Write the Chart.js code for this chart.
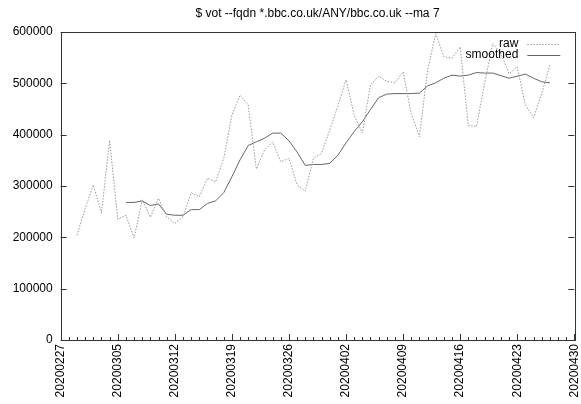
<!DOCTYPE html>
<html>
<head>
<meta charset="utf-8">
<script src="https://cdn.jsdelivr.net/npm/chart.js@4"></script>
<style>
  body { margin: 0; background: #fff; }
  #box { width: 581px; height: 404px; position: relative; }
</style>
</head>
<body>
<div id="box"><canvas id="chart"></canvas></div>
<script>
// axis range and tick labels
const firstDay = '20200227';
const dayCount = 64;
const xTickLabels = ['20200227', '20200305', '20200312', '20200319', '20200326',
  '20200402', '20200409', '20200416', '20200423', '20200430'];
const yTicks = [0, 100000, 200000, 300000, 400000, 500000, 600000];

// raw daily values, from 20200229 to 20200427
const rawStart = '20200229';
const rawValues = [204000, 256000, 302000, 247000, 389000, 235000, 243000, 199000,
  273000, 239000, 276000, 240000, 227000, 240000, 287000, 279000, 315000, 308000,
  354000, 438000, 477000, 458000, 333000, 370000, 386000, 347000, 354000, 302000,
  290000, 354000, 364000, 409000, 456000, 507000, 438000, 403000, 497000, 514000,
  504000, 501000, 522000, 441000, 396000, 525000, 597000, 552000, 549000, 571000,
  418000, 416000, 500000, 578000, 558000, 519000, 532000, 458000, 433000, 480000,
  535000];

// smoothed (--ma 7), from 20200306 to 20200427
const smoothStart = '20200306';
const smoothValues = [268000, 268000, 271000, 262000, 265000, 245000, 243000, 243000,
  254000, 254000, 266000, 271000, 287000, 318000, 351000, 379000, 386000, 393000,
  403000, 403000, 388000, 366000, 340000, 342000, 342000, 344000, 360000, 384000,
  406000, 425000, 449000, 472000, 479000, 480000, 480000, 480000, 481000, 495000,
  501000, 510000, 516000, 514000, 516000, 521000, 520000, 520000, 515000, 510000,
  514000, 518000, 510000, 503000, 501000];

const title = '$ vot --fqdn *.bbc.co.uk/ANY/bbc.co.uk --ma 7';
const font = "'Liberation Sans', Arial, Helvetica, sans-serif";

// list of days on the x axis
var days = [];
var dt = new Date(Date.UTC(+firstDay.slice(0, 4), +firstDay.slice(4, 6) - 1, +firstDay.slice(6, 8)));
for (var i = 0; i < dayCount; i++) {
  var s = dt.getUTCFullYear() + String(dt.getUTCMonth() + 1).padStart(2, '0') + String(dt.getUTCDate()).padStart(2, '0');
  days.push(s);
  dt.setUTCDate(dt.getUTCDate() + 1);
}

function toPoints(start, values) {
  var k = days.indexOf(start);
  return values.map((v, j) => ({ x: days[k + j], y: v }));
}

// box, inward ticks, title and legend the gnuplot way
const frame = {
  id: 'frame',
  afterDraw(chart) {
    const ctx = chart.ctx;
    const a = chart.chartArea;
    const xs = chart.scales.x;
    const ys = chart.scales.y;
    ctx.save();
    ctx.strokeStyle = '#333';
    ctx.lineWidth = 1;
    ctx.beginPath();
    for (var i = 0; i < days.length; i++) {
      var x = Math.round(xs.getPixelForValue(i)) + 0.5;
      var len = xTickLabels.includes(days[i]) ? 6 : 3;
      ctx.moveTo(x, a.bottom);
      ctx.lineTo(x, a.bottom - len);
    }
    yTicks.forEach(v => {
      var y = Math.round(ys.getPixelForValue(v)) + 0.5;
      ctx.moveTo(a.left, y);
      ctx.lineTo(a.left + 6, y);
      ctx.moveTo(a.right, y);
      ctx.lineTo(a.right - 6, y);
    });
    ctx.stroke();
    ctx.strokeRect(Math.round(a.left) + 0.5, Math.round(a.top) + 0.5,
      Math.round(a.right - a.left), Math.round(a.bottom - a.top));

    ctx.fillStyle = '#000';
    ctx.font = '12px ' + font;
    ctx.textAlign = 'center';
    ctx.textBaseline = 'middle';
    ctx.fillText(title, (a.left + a.right) / 2, 14);

    // legend
    const sets = chart.data.datasets;
    ctx.textAlign = 'right';
    sets.forEach((ds, n) => {
      var y = 43.5 + n * 11;
      ctx.fillStyle = '#000';
      ctx.fillText(ds.label, a.right - 56, y);
      ctx.strokeStyle = ds.borderColor;
      ctx.setLineDash(ds.borderDash || []);
      ctx.beginPath();
      ctx.moveTo(a.right - 47, Math.round(y) + 0.5);
      ctx.lineTo(a.right - 14, Math.round(y) + 0.5);
      ctx.stroke();
    });
    ctx.restore();
  }
};

const ctx = document.getElementById('chart').getContext('2d');
const myChart = new Chart(ctx, {
  type: 'line',
  data: {
    labels: days,
    datasets: [{
      label: 'raw',
      data: toPoints(rawStart, rawValues),
      borderColor: '#999',
      borderWidth: 1,
      borderDash: [1.5, 1.5],
      pointRadius: 0,
      tension: 0,
      fill: false
    }, {
      label: 'smoothed',
      data: toPoints(smoothStart, smoothValues),
      borderColor: '#666',
      borderWidth: 1,
      pointRadius: 0,
      tension: 0,
      fill: false
    }]
  },
  options: {
    responsive: true,
    maintainAspectRatio: false,
    animation: false,
    layout: { padding: { top: 32, right: 6.7, left: 0, bottom: 0 } },
    plugins: {
      legend: { display: false },
      tooltip: { enabled: false }
    },
    scales: {
      x: {
        type: 'category',
        offset: false,
        grid: { display: false, drawTicks: false },
        border: { display: false },
        afterFit: scale => { scale.height = 64; scale.paddingLeft = 0; scale.paddingRight = 0; },
        ticks: {
          autoSkip: false,
          minRotation: 90,
          maxRotation: 90,
          padding: 4,
          color: '#000',
          font: { family: font, size: 12 },
          callback: function (value) {
            var l = this.getLabelForValue(value);
            return xTickLabels.includes(l) ? l : '';
          }
        }
      },
      y: {
        min: 0,
        max: 600000,
        grid: { display: false, drawTicks: false },
        border: { display: false },
        afterFit: scale => { scale.width = 60.7; scale.paddingTop = 0; scale.paddingBottom = 0; },
        afterBuildTicks: scale => { scale.ticks = yTicks.map(v => ({ value: v })); },
        ticks: {
          padding: 8,
          color: '#000',
          font: { family: font, size: 12 },
          callback: v => String(v)
        }
      }
    }
  },
  plugins: [frame]
});
</script>
</body>
</html>
